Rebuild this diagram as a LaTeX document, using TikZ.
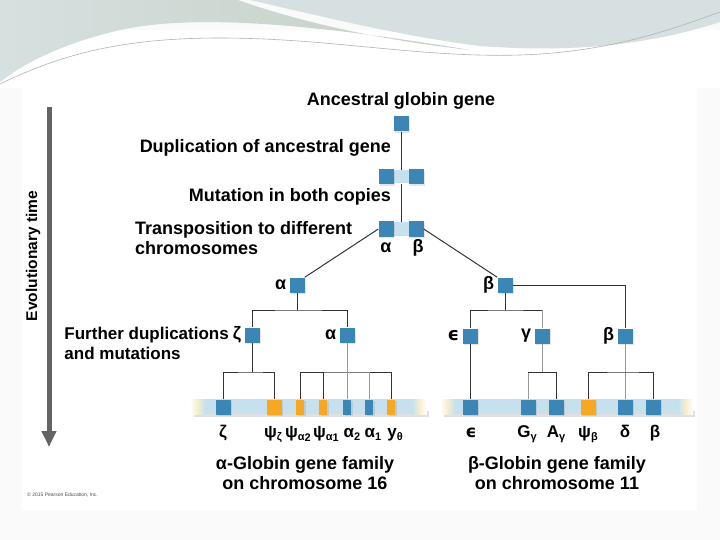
\documentclass[tikz,border=0pt]{standalone}
\usepackage{fontspec}
\setmainfont{Liberation Sans}
\newfontfamily\epsfont{DejaVu Sans}
\usetikzlibrary{shadows,arrows.meta}
\definecolor{geneblue}{RGB}{59,134,181}
\definecolor{stripblue}{RGB}{198,224,238}
\definecolor{pseudo}{RGB}{247,168,35}
\definecolor{cream}{RGB}{246,238,205}
\definecolor{swoosh}{RGB}{196,208,196}
\definecolor{swooshb}{RGB}{214,224,224}
\definecolor{timegray}{RGB}{100,100,100}
\newcommand{\gsub}[1]{\raisebox{-.35ex}{\fontsize{11}{11}\selectfont #1}}
\begin{document}
\begin{tikzpicture}[x=1pt,y=-1pt,
  gene/.style={rectangle, fill=geneblue, minimum width=15pt, minimum height=15pt, inner sep=0pt,
    drop shadow={shadow xshift=1.5pt, shadow yshift=-1.5pt, opacity=.2}},
  thin gene/.style={gene, minimum width=8pt},
  pseudogene/.style={gene, fill=pseudo},
  thin pseudo/.style={pseudogene, minimum width=8pt},
  pair/.style={rectangle, fill=stripblue, minimum width=30pt, minimum height=13pt, inner sep=0pt},
  txt/.style={font=\fontsize{18}{20}\selectfont\bfseries, inner sep=0pt},
  lab/.style={txt, font=\fontsize{17}{20}\selectfont\bfseries, anchor=base},
  tree/.style={line width=1pt, draw=black!80},
  faint/.style={line width=.8pt, draw=black!40}]
\useasboundingbox (0,0) rectangle (720,540);

% background and swoosh
\fill[black!2] (0,0) rectangle (720,540);
\fill[white] (0,30) rectangle (720,88);
\fill[white] (22,88) rectangle (697,510);
\shade[left color=swooshb, right color=swoosh] (0,0) -- (238,0) .. controls (300,22) and (380,40) .. (470,50)
  .. controls (360,32) and (220,12) .. (130,28) .. controls (70,40) and (25,62) .. (0,82) -- cycle;
\fill[swooshb] (250,0) -- (720,0) -- (720,22) .. controls (640,48) and (560,52) .. (480,46)
  .. controls (400,36) and (320,16) .. (250,0) -- cycle;
\draw[black!30, line width=.6pt] (0,84) .. controls (60,55) and (120,38) .. (220,38)
  .. controls (330,38) and (420,58) .. (520,55) .. controls (610,52) and (670,30) .. (720,12);

% time axis
\coordinate (tstart) at (49,107);
\coordinate (tend) at (49,447);
\draw[timegray, line width=5pt, -{Triangle[width=14pt,length=16pt]}] (tstart) -- (tend);
\node[txt, font=\fontsize{15.5}{18}\selectfont\bfseries, rotate=90] (evo) at (33,256) {Evolutionary time};

% ancestral gene and early events
\node[txt] (anctxt) at (401,101) {Ancestral globin gene};
\node[gene] (anc) at (401,124) {};
\node[txt, anchor=east] (duptxt) at (391,148) {Duplication of ancestral gene};
\node[pair] (dup) at (401,177) {};
\node[gene] (d1) at (386,177) {};
\node[gene] (d2) at (416,177) {};
\node[txt, anchor=east] (muttxt) at (391,197) {Mutation in both copies};
\node[pair] (trans) at (401,229) {};
\node[gene] (t1) at (386,229) {};
\node[gene] (t2) at (416,229) {};
\node[txt] (talpha) at (386,248) {α};
\node[txt] (tbeta) at (418,248) {β};
\node[txt, anchor=west, align=left] (transtxt) at (135,238) {Transposition to different\\chromosomes};
\node[txt, font=\fontsize{17}{20}\selectfont\bfseries, anchor=east, align=left] (furthertxt) at (229,343) {Further duplications\\and mutations};

\draw[tree] (anc) -- (dup);
\draw[tree] (dup) -- (trans);

% alpha and beta branches
\node[gene, label={[txt, xshift=-3pt]left:α}] (alpha) at (297,285) {};
\node[gene, label={[txt, xshift=-3pt]left:β}] (beta) at (505,285) {};
\draw[tree] (t1.west) -- (alpha.north east);
\draw[tree] (t2.east) -- (beta.north west);

\node[gene, label={[txt, xshift=-3pt]left:ζ}] (zeta) at (252,335) {};
\node[gene, label={[txt, xshift=-3pt]left:α}] (alphaB) at (347,335) {};
\node[gene, label={[txt, xshift=-3pt]left:{\epsfont ϵ}}] (eps) at (470,336) {};
\node[gene, label={[txt, xshift=-3pt]left:γ}] (gam) at (542,336) {};
\node[gene, label={[txt, xshift=-3pt]left:β}] (betaB) at (625,336) {};

% chromosome strips
\fill[black, opacity=.12] (194,411) rectangle (429,417);
\fill[black, opacity=.12] (444,411) rectangle (695,417);
\fill[stripblue] (205,399) rectangle (412,414);
\shade[left color=white, right color=stripblue, middle color=cream] (190,399) rectangle (205,414);
\shade[left color=stripblue, right color=white, middle color=cream] (412,399) rectangle (427,414);
\fill[stripblue] (455,399) rectangle (678,414);
\shade[left color=white, right color=stripblue, middle color=cream] (440,399) rectangle (455,414);
\shade[left color=stripblue, right color=white, middle color=cream] (678,399) rectangle (693,414);

% chromosome 16
\node[gene] (gz) at (223,407) {};
\node[pseudogene] (gpz) at (274,407) {};
\node[thin pseudo] (gpa2) at (300,407) {};
\node[thin pseudo] (gpa1) at (323,407) {};
\node[thin gene] (ga2) at (347,407) {};
\node[thin gene] (ga1) at (369,407) {};
\node[thin pseudo] (gth) at (391,407) {};

% chromosome 11
\node[gene] (ge) at (470,407) {};
\node[gene] (gG) at (528,407) {};
\node[gene] (gA) at (556,407) {};
\node[pseudogene] (gpb) at (588,407) {};
\node[gene] (gd) at (625,407) {};
\node[gene] (gb) at (653,407) {};

% alpha tree
\coordinate (ja) at (297,310);
\draw[tree] (alpha) -- (ja);
\draw[tree] (zeta.north) |- (ja) -| (alphaB.north);
\coordinate (jz) at (252,372);
\draw[tree] (zeta) -- (jz);
\draw[tree] (gz.north) |- (jz) -| (gpz.north);
\coordinate (jal) at (347,372);
\draw[tree] (gpa2.north) |- (jal) -| (gth.north);
\draw[tree] (gpa1.north) -- (gpa1.north |- jal);
\draw[faint] (alphaB) -- (ga2);
\draw[faint] (ga1.north) -- (ga1.north |- jal);

% beta tree
\coordinate (jb) at (505,310);
\coordinate (jg) at (542,310);
\draw[tree] (beta) -- (jb);
\draw[tree] (eps.north) |- (jb) -- (jg);
\draw[faint] (jg) -- (gam);
\draw[tree] (beta.east) -| (betaB.north);
\draw[faint] (betaB) -- (gd);
\draw[tree] (eps) -- (ge);
\coordinate (jgg) at (542,372);
\draw[faint] (gam) -- (jgg);
\draw[faint] (gG.north) -- (gG.north |- jgg);
\draw[tree] (gG.north |- jgg) -| (gA.north);
\coordinate (jbd) at (625,372);
\draw[tree] (gpb.north) |- (jbd) -| (gb.north);

% gene labels
\node[lab] (lz) at (223,437) {ζ};
\node[lab] (lpz) at (273,437) {ψ\gsub{ζ}};
\node[lab] (lpa2) at (298,437) {ψ\gsub{α\raisebox{-.3ex}{2}}};
\node[lab] (lpa1) at (326,437) {ψ\gsub{α\raisebox{-.3ex}{1}}};
\node[lab] (la2) at (352,437) {α\gsub{2}};
\node[lab] (la1) at (373,437) {α\gsub{1}};
\node[lab] (lth) at (395,437) {y\gsub{θ}};
\node[lab] (le) at (471,437) {\epsfont ϵ};
\node[lab] (lG) at (527,437) {G\gsub{γ}};
\node[lab] (lA) at (556,437) {A\gsub{γ}};
\node[lab] (lpb) at (588,437) {ψ\gsub{β}};
\node[lab] (ld) at (625,437) {δ};
\node[lab] (lb) at (655,437) {β};

% family captions
\node[txt, align=center] (fam16) at (305,473) {α-Globin gene family\\on chromosome 16};
\node[txt, align=center] (fam11) at (557,473) {β-Globin gene family\\on chromosome 11};
\node[anchor=west, inner sep=0pt, text=black!70, font=\fontsize{5}{6}\selectfont] (copy) at (27,495) {© 2015 Pearson Education, Inc.};
\end{tikzpicture}
\end{document}
